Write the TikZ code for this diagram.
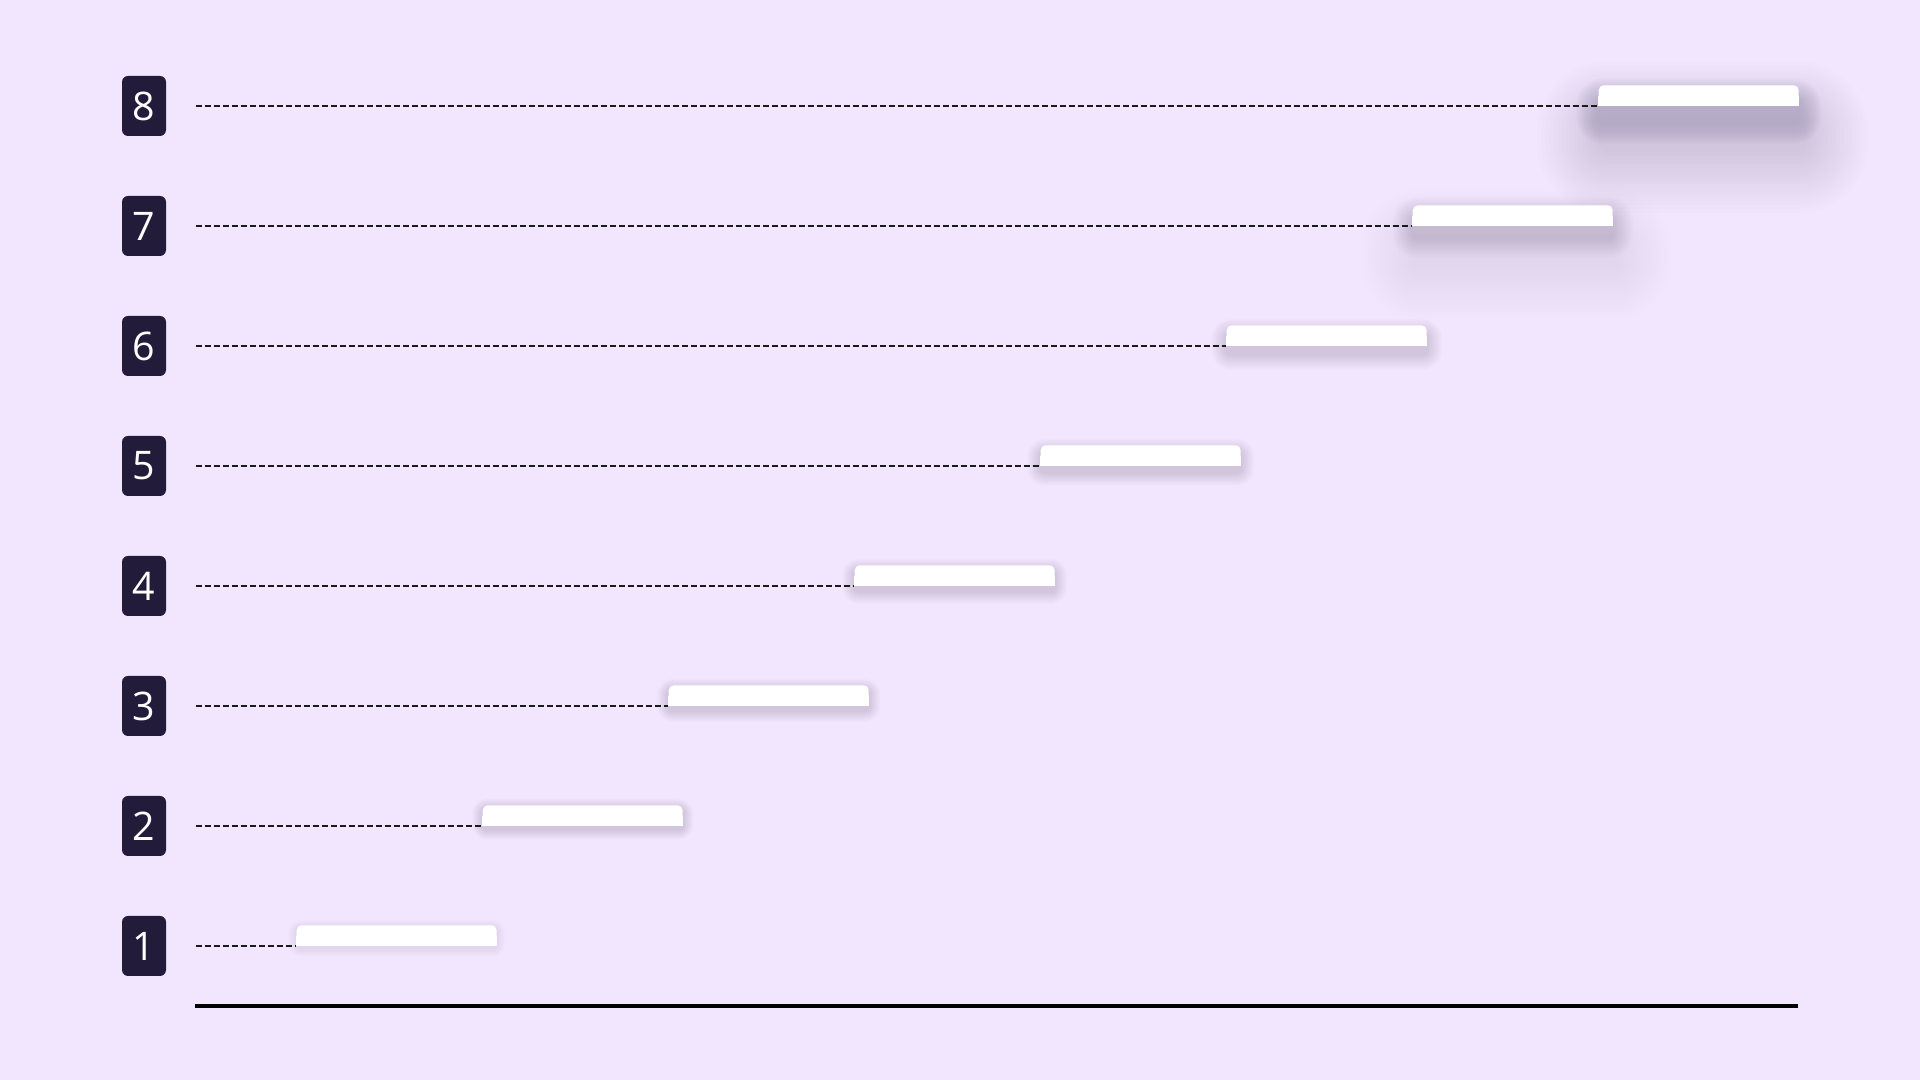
\documentclass[tikz,border=0pt]{standalone}
\usepackage{xcolor}
\usepackage{fontspec}
\setmainfont{Open Sans}
\usepackage{tikz}
\definecolor{stepbg}{HTML}{F2E5FE}
\definecolor{stepnavy}{HTML}{221C3A}
\definecolor{stepdash}{HTML}{1A1A1A}
\definecolor{stepshade}{HTML}{3A3250}
\pgfdeclarelayer{shade}
\pgfsetlayers{shade,main}

% soft shadow under a bar: node, xshift, yshift, spread, opacity per layer
\newcommand{\castshade}[5]{%
  \foreach \k in {0,...,15}{
    \pgfmathsetmacro\grow{#4*(1-\k/16)}
    \pgfmathsetmacro\rad{\grow+0.05}
    \fill[stepshade,opacity=#5,rounded corners=\rad cm]
      ([shift={(#2-\grow,#3-\grow)}]#1.south west) rectangle
      ([shift={(#2+\grow,#3+\grow)}]#1.north east);
  }}

\begin{document}
\begin{tikzpicture}[
  num/.style={rectangle,fill=stepnavy,rounded corners=0.06cm,
    minimum width=0.44cm,minimum height=0.6cm,inner sep=0pt,
    text=white,font=\fontsize{11.2}{13}\selectfont},
  bar/.style={rectangle,fill=white,rounded corners=0.05cm,
    minimum width=2cm,minimum height=0.2cm,inner sep=0pt,anchor=south west,
    append after command={\pgfextra{\fill[white]
      (\tikzlastnode.south west) rectangle ([yshift=0.1cm]\tikzlastnode.south east);}}},
  leader/.style={draw=stepdash,line width=0.018cm,dash pattern=on 0.06cm off 0.03cm},
  axis/.style={draw=black,line width=0.04cm}]

  % background and frame
  \begin{pgfonlayer}{shade}
    \fill[stepbg] (0,0) rectangle (19.2,10.8);
  \end{pgfonlayer}
  \useasboundingbox (0,0) rectangle (19.2,10.8);

  \node[num] (n1) at (1.44,1.34) {1};
  \node[num] (n2) at (1.44,2.54) {2};
  \node[num] (n3) at (1.44,3.74) {3};
  \node[num] (n4) at (1.44,4.94) {4};
  \node[num] (n5) at (1.44,6.14) {5};
  \node[num] (n6) at (1.44,7.34) {6};
  \node[num] (n7) at (1.44,8.54) {7};
  \node[num] (n8) at (1.44,9.74) {8};

  \node[bar] (b1) at (2.96,1.34) {};
  \node[bar] (b2) at (4.82,2.54) {};
  \node[bar] (b3) at (6.68,3.74) {};
  \node[bar] (b4) at (8.54,4.94) {};
  \node[bar] (b5) at (10.40,6.14) {};
  \node[bar] (b6) at (12.26,7.34) {};
  \node[bar] (b7) at (14.12,8.54) {};
  \node[bar] (b8) at (15.98,9.74) {};

  % shadows go under the bars
  \begin{pgfonlayer}{shade}
    \castshade{b1}{0}{-0.03}{0.08}{0.004}
    \castshade{b2}{0}{-0.04}{0.1}{0.006}
    \castshade{b3}{0}{-0.05}{0.11}{0.007}
    \castshade{b4}{0}{-0.06}{0.12}{0.008}
    \castshade{b5}{0}{-0.07}{0.13}{0.008}
    \castshade{b6}{0}{-0.09}{0.15}{0.009}
    \castshade{b7}{0}{-0.12}{0.2}{0.009}
    \castshade{b7}{0.03}{-0.4}{0.55}{0.005}
    \castshade{b8}{0}{-0.16}{0.22}{0.011}
    \castshade{b8}{0.04}{-0.42}{0.65}{0.007}
  \end{pgfonlayer}

  \draw[leader] ([xshift=0.29cm]n1.east) -- (b1.south west);
  \draw[leader] ([xshift=0.29cm]n2.east) -- (b2.south west);
  \draw[leader] ([xshift=0.29cm]n3.east) -- (b3.south west);
  \draw[leader] ([xshift=0.29cm]n4.east) -- (b4.south west);
  \draw[leader] ([xshift=0.29cm]n5.east) -- (b5.south west);
  \draw[leader] ([xshift=0.29cm]n6.east) -- (b6.south west);
  \draw[leader] ([xshift=0.29cm]n7.east) -- (b7.south west);
  \draw[leader] ([xshift=0.29cm]n8.east) -- (b8.south west);

  \draw[axis] (1.95,0.74) -- (17.98,0.74);
\end{tikzpicture}
\end{document}
